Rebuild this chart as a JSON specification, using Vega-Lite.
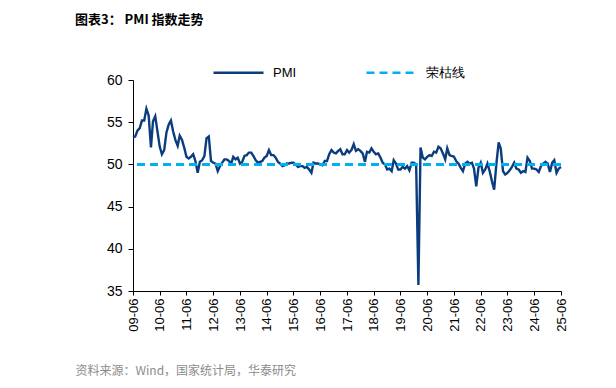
{
  "$schema": "https://vega.github.io/schema/vega-lite/v6.json",
  "autosize": {"type": "none"},
  "padding": {"left": 133, "top": 80, "right": 55, "bottom": 97},
  "width": 428,
  "height": 211,
  "background": "white",
  "title": {
    "text": "图表3： PMI 指数走势",
    "anchor": "start",
    "frame": "group",
    "font": "Noto Sans CJK SC",
    "fontSize": 13,
    "fontWeight": "bold",
    "color": "#000000",
    "dx": -58,
    "dy": -15
  },
  "config": {
    "view": {"stroke": null},
    "axis": {"grid": false, "domainColor": "#000000", "tickColor": "#000000", "labelColor": "#000000", "labelFont": "Liberation Sans"},
    "legend": {
      "orient": "none",
      "legendX": 79,
      "legendY": -34,
      "direction": "horizontal",
      "title": null,
      "symbolType": "stroke",
      "symbolSize": 2500,
      "symbolStrokeWidth": 2.5,
      "labelFontSize": 13,
      "labelFont": "Liberation Sans",
      "labelColor": "#000000",
      "labelOffset": 8,
      "columnPadding": 64
    }
  },
  "data": {"values": [
    {"d":"2009-06-01","v":53.2},{"d":"2009-07-01","v":53.3},{"d":"2009-08-01","v":54.0},{"d":"2009-09-01","v":54.3},{"d":"2009-10-01","v":55.2},{"d":"2009-11-01","v":55.2},{"d":"2009-12-01","v":56.6},
    {"d":"2010-01-01","v":55.8},{"d":"2010-02-01","v":52.0},{"d":"2010-03-01","v":55.1},{"d":"2010-04-01","v":55.7},{"d":"2010-05-01","v":53.9},{"d":"2010-06-01","v":52.1},{"d":"2010-07-01","v":51.2},{"d":"2010-08-01","v":51.7},{"d":"2010-09-01","v":53.8},{"d":"2010-10-01","v":54.7},{"d":"2010-11-01","v":55.2},{"d":"2010-12-01","v":53.9},
    {"d":"2011-01-01","v":52.9},{"d":"2011-02-01","v":52.2},{"d":"2011-03-01","v":53.4},{"d":"2011-04-01","v":52.9},{"d":"2011-05-01","v":52.0},{"d":"2011-06-01","v":50.9},{"d":"2011-07-01","v":50.7},{"d":"2011-08-01","v":50.9},{"d":"2011-09-01","v":51.2},{"d":"2011-10-01","v":50.4},{"d":"2011-11-01","v":49.0},{"d":"2011-12-01","v":50.3},
    {"d":"2012-01-01","v":50.5},{"d":"2012-02-01","v":51.0},{"d":"2012-03-01","v":53.1},{"d":"2012-04-01","v":53.3},{"d":"2012-05-01","v":50.4},{"d":"2012-06-01","v":50.2},{"d":"2012-07-01","v":50.1},{"d":"2012-08-01","v":49.2},{"d":"2012-09-01","v":49.8},{"d":"2012-10-01","v":50.2},{"d":"2012-11-01","v":50.6},{"d":"2012-12-01","v":50.6},
    {"d":"2013-01-01","v":50.4},{"d":"2013-02-01","v":50.1},{"d":"2013-03-01","v":50.9},{"d":"2013-04-01","v":50.6},{"d":"2013-05-01","v":50.8},{"d":"2013-06-01","v":50.1},{"d":"2013-07-01","v":50.3},{"d":"2013-08-01","v":51.0},{"d":"2013-09-01","v":51.1},{"d":"2013-10-01","v":51.4},{"d":"2013-11-01","v":51.4},{"d":"2013-12-01","v":51.0},
    {"d":"2014-01-01","v":50.5},{"d":"2014-02-01","v":50.2},{"d":"2014-03-01","v":50.3},{"d":"2014-04-01","v":50.4},{"d":"2014-05-01","v":50.8},{"d":"2014-06-01","v":51.0},{"d":"2014-07-01","v":51.7},{"d":"2014-08-01","v":51.1},{"d":"2014-09-01","v":51.1},{"d":"2014-10-01","v":50.8},{"d":"2014-11-01","v":50.3},{"d":"2014-12-01","v":50.1},
    {"d":"2015-01-01","v":49.8},{"d":"2015-02-01","v":49.9},{"d":"2015-03-01","v":50.1},{"d":"2015-04-01","v":50.1},{"d":"2015-05-01","v":50.2},{"d":"2015-06-01","v":50.2},{"d":"2015-07-01","v":50.0},{"d":"2015-08-01","v":49.7},{"d":"2015-09-01","v":49.8},{"d":"2015-10-01","v":49.8},{"d":"2015-11-01","v":49.6},{"d":"2015-12-01","v":49.7},
    {"d":"2016-01-01","v":49.4},{"d":"2016-02-01","v":49.0},{"d":"2016-03-01","v":50.2},{"d":"2016-04-01","v":50.1},{"d":"2016-05-01","v":50.1},{"d":"2016-06-01","v":50.0},{"d":"2016-07-01","v":49.9},{"d":"2016-08-01","v":50.4},{"d":"2016-09-01","v":50.4},{"d":"2016-10-01","v":51.2},{"d":"2016-11-01","v":51.7},{"d":"2016-12-01","v":51.4},
    {"d":"2017-01-01","v":51.3},{"d":"2017-02-01","v":51.6},{"d":"2017-03-01","v":51.8},{"d":"2017-04-01","v":51.2},{"d":"2017-05-01","v":51.2},{"d":"2017-06-01","v":51.7},{"d":"2017-07-01","v":51.4},{"d":"2017-08-01","v":51.7},{"d":"2017-09-01","v":52.4},{"d":"2017-10-01","v":51.6},{"d":"2017-11-01","v":51.8},{"d":"2017-12-01","v":51.6},
    {"d":"2018-01-01","v":51.3},{"d":"2018-02-01","v":50.3},{"d":"2018-03-01","v":51.5},{"d":"2018-04-01","v":51.4},{"d":"2018-05-01","v":51.9},{"d":"2018-06-01","v":51.5},{"d":"2018-07-01","v":51.2},{"d":"2018-08-01","v":51.3},{"d":"2018-09-01","v":50.8},{"d":"2018-10-01","v":50.2},{"d":"2018-11-01","v":50.0},{"d":"2018-12-01","v":49.4},
    {"d":"2019-01-01","v":49.5},{"d":"2019-02-01","v":49.2},{"d":"2019-03-01","v":50.5},{"d":"2019-04-01","v":50.1},{"d":"2019-05-01","v":49.4},{"d":"2019-06-01","v":49.4},{"d":"2019-07-01","v":49.7},{"d":"2019-08-01","v":49.5},{"d":"2019-09-01","v":49.8},{"d":"2019-10-01","v":49.3},{"d":"2019-11-01","v":50.2},{"d":"2019-12-01","v":50.2},
    {"d":"2020-01-01","v":50.0},{"d":"2020-02-01","v":35.7},{"d":"2020-03-01","v":52.0},{"d":"2020-04-01","v":50.8},{"d":"2020-05-01","v":50.6},{"d":"2020-06-01","v":50.9},{"d":"2020-07-01","v":51.1},{"d":"2020-08-01","v":51.0},{"d":"2020-09-01","v":51.5},{"d":"2020-10-01","v":51.4},{"d":"2020-11-01","v":52.1},{"d":"2020-12-01","v":51.9},
    {"d":"2021-01-01","v":51.3},{"d":"2021-02-01","v":50.6},{"d":"2021-03-01","v":51.9},{"d":"2021-04-01","v":51.1},{"d":"2021-05-01","v":51.0},{"d":"2021-06-01","v":50.9},{"d":"2021-07-01","v":50.4},{"d":"2021-08-01","v":50.1},{"d":"2021-09-01","v":49.6},{"d":"2021-10-01","v":49.2},{"d":"2021-11-01","v":50.1},{"d":"2021-12-01","v":50.3},
    {"d":"2022-01-01","v":50.1},{"d":"2022-02-01","v":50.2},{"d":"2022-03-01","v":49.5},{"d":"2022-04-01","v":47.4},{"d":"2022-05-01","v":49.6},{"d":"2022-06-01","v":50.2},{"d":"2022-07-01","v":49.0},{"d":"2022-08-01","v":49.4},{"d":"2022-09-01","v":50.1},{"d":"2022-10-01","v":49.2},{"d":"2022-11-01","v":48.0},{"d":"2022-12-01","v":47.0},
    {"d":"2023-01-01","v":50.1},{"d":"2023-02-01","v":52.6},{"d":"2023-03-01","v":51.9},{"d":"2023-04-01","v":49.2},{"d":"2023-05-01","v":48.8},{"d":"2023-06-01","v":49.0},{"d":"2023-07-01","v":49.3},{"d":"2023-08-01","v":49.7},{"d":"2023-09-01","v":50.2},{"d":"2023-10-01","v":49.5},{"d":"2023-11-01","v":49.4},{"d":"2023-12-01","v":49.0},
    {"d":"2024-01-01","v":49.2},{"d":"2024-02-01","v":49.1},{"d":"2024-03-01","v":50.8},{"d":"2024-04-01","v":50.4},{"d":"2024-05-01","v":49.5},{"d":"2024-06-01","v":49.5},{"d":"2024-07-01","v":49.4},{"d":"2024-08-01","v":49.1},{"d":"2024-09-01","v":49.8},{"d":"2024-10-01","v":50.1},{"d":"2024-11-01","v":50.3},{"d":"2024-12-01","v":50.1},
    {"d":"2025-01-01","v":49.1},{"d":"2025-02-01","v":50.2},{"d":"2025-03-01","v":50.5},{"d":"2025-04-01","v":49.0},{"d":"2025-05-01","v":49.5},{"d":"2025-06-01","v":49.7}
  ]},
  "layer": [
    {
      "mark": {"type": "line", "strokeWidth": 2.4, "interpolate": "linear"},
      "encoding": {
        "x": {
          "field": "d", "type": "temporal",
          "scale": {"type": "utc", "domain": [{"year": 2009, "month": 6, "date": 1, "utc": true}, {"year": 2025, "month": 6, "date": 1, "utc": true}], "nice": false},
          "axis": {
            "values": [
              {"year": 2009, "month": 6, "date": 1, "utc": true},{"year": 2010, "month": 6, "date": 1, "utc": true},{"year": 2011, "month": 6, "date": 1, "utc": true},{"year": 2012, "month": 6, "date": 1, "utc": true},{"year": 2013, "month": 6, "date": 1, "utc": true},{"year": 2014, "month": 6, "date": 1, "utc": true},{"year": 2015, "month": 6, "date": 1, "utc": true},{"year": 2016, "month": 6, "date": 1, "utc": true},{"year": 2017, "month": 6, "date": 1, "utc": true},{"year": 2018, "month": 6, "date": 1, "utc": true},{"year": 2019, "month": 6, "date": 1, "utc": true},{"year": 2020, "month": 6, "date": 1, "utc": true},{"year": 2021, "month": 6, "date": 1, "utc": true},{"year": 2022, "month": 6, "date": 1, "utc": true},{"year": 2023, "month": 6, "date": 1, "utc": true},{"year": 2024, "month": 6, "date": 1, "utc": true},{"year": 2025, "month": 6, "date": 1, "utc": true}
            ],
            "format": "%y-%m",
            "labelAngle": -90,
            "labelFontSize": 13,
            "labelPadding": 3,
            "tickSize": 4,
            "labelFlush": false,
            "labelOverlap": false,
            "title": "资料来源：Wind，国家统计局，华泰研究",
            "titleFont": "Noto Sans CJK SC",
            "titleFontSize": 12,
            "titleFontWeight": "normal",
            "titleColor": "#8c8c8c",
            "titleAlign": "left",
            "titleAnchor": "start",
            "titleBaseline": "middle",
            "titleX": -58,
            "titleY": 79
          }
        },
        "y": {
          "field": "v", "type": "quantitative",
          "scale": {"domain": [35, 60], "nice": false, "zero": false},
          "axis": {"values": [35, 40, 45, 50, 55, 60], "title": null, "labelFontSize": 14, "tickSize": 5, "labelPadding": 6}
        },
        "color": {"datum": "PMI", "scale": {"domain": ["PMI", "荣枯线"], "range": ["#0b3d7e", "#00b0f0"]}},
        "strokeDash": {"datum": "PMI", "scale": {"domain": ["PMI", "荣枯线"], "range": [[1, 0], [8, 5]]}}
      }
    },
    {
      "mark": {"type": "rule", "strokeWidth": 2.2},
      "encoding": {
        "y": {"datum": 50, "type": "quantitative"},
        "color": {"datum": "荣枯线"},
        "strokeDash": {"datum": "荣枯线"}
      }
    }
  ],
  "resolve": {"legend": {"color": "shared", "strokeDash": "shared"}}
}
